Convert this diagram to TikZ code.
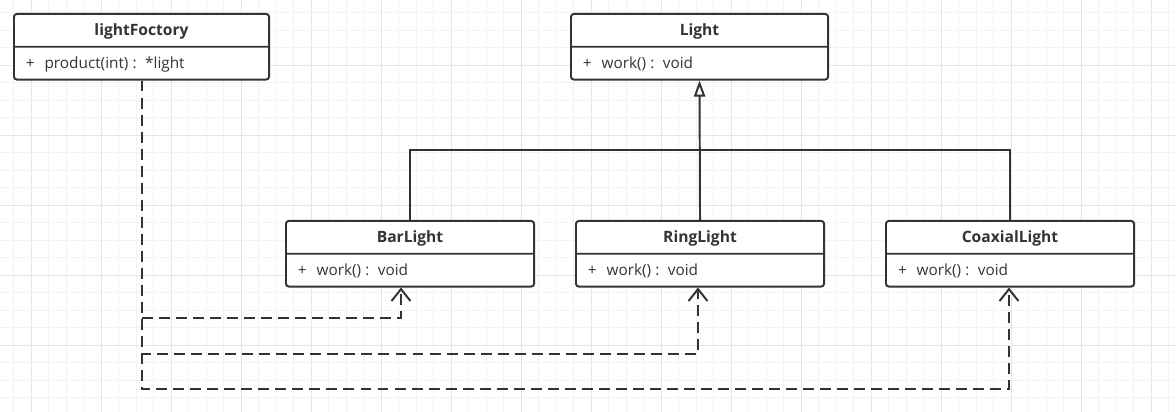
\documentclass[tikz,border=0pt]{standalone}
\usepackage{fontspec}
\setmainfont{Open Sans}
\definecolor{LineColor}{RGB}{51,51,51}
\definecolor{GridMinor}{RGB}{243,243,243}
\definecolor{GridMajor}{RGB}{229,229,229}
\usetikzlibrary{shapes.multipart, arrows.meta, positioning}
\newcommand{\umlstrut}{\rule[-0.255cm]{0pt}{0.77cm}}
\newcommand{\umltitle}[1]{\makebox[\hsize]{\fontsize{11.1}{13}\selectfont\textbf{#1}}\umlstrut}
\tikzstyle{umlclass} = [rectangle split, rectangle split parts=2, draw=LineColor, line width=1.4pt, rounded corners=2pt, fill=white, text=LineColor, anchor=north west, inner xsep=0.3cm, inner ysep=0pt, align=left, text width=#1, font=\fontsize{10.9}{13}\selectfont]
\tikzstyle{minorline} = [GridMinor, line width=0.7pt]
\tikzstyle{majorline} = [GridMajor, line width=0.7pt]
\tikzstyle{generalize} = [LineColor, line width=1.4pt]
\tikzstyle{inherit} = [LineColor, line width=1.4pt, -{Triangle[open, length=11.5pt, width=8pt, fill=white]}]
\tikzstyle{depend} = [LineColor, line width=1.4pt, dash pattern=on 7.8pt off 4.3pt, -{Straight Barb[length=8.5pt, width=13.5pt]}]
\begin{document}
\begin{tikzpicture}[x=0.025cm, y=-0.025cm]
    \useasboundingbox (0,0) rectangle (1176,412);
    % Grid
    \foreach \gx in {13.5,31,...,1176} \draw[minorline] (\gx,0) -- (\gx,412);
    \foreach \gy in {12.5,30,...,412} \draw[minorline] (0,\gy) -- (1176,\gy);
    \foreach \gx in {31,101,...,1176} \draw[majorline] (\gx,0) -- (\gx,412);
    \foreach \gy in {65,135,...,412} \draw[majorline] (0,\gy) -- (1176,\gy);

    % Classes
    \node[umlclass=5.775cm] (factory) at (13,13) {\umltitle{lightFoctory}\nodepart{second}+\hspace{7pt}product(int)\hspace{3pt}:\hspace{6pt}*light\umlstrut};
    \node[umlclass=5.825cm] (light) at (570,13) {\umltitle{Light}\nodepart{second}+\hspace{7pt}work()\hspace{3pt}:\hspace{6pt}void\umlstrut};
    \node[umlclass=5.6cm] (bar) at (285,220) {\umltitle{BarLight}\nodepart{second}+\hspace{7pt}work()\hspace{3pt}:\hspace{6pt}void\umlstrut};
    \node[umlclass=5.6cm] (ring) at (575,220) {\umltitle{RingLight}\nodepart{second}+\hspace{7pt}work()\hspace{3pt}:\hspace{6pt}void\umlstrut};
    \node[umlclass=5.6cm] (coax) at (885,220) {\umltitle{CoaxialLight}\nodepart{second}+\hspace{7pt}work()\hspace{3pt}:\hspace{6pt}void\umlstrut};

    % Inheritance
    \coordinate (bus) at (699,150);
    \draw[generalize] (bar.north) |- (bus) -| (coax.north);
    \draw[inherit] (ring.north) -- (light.south);

    % Dependencies
    \coordinate (tapBar) at (401,318);
    \coordinate (tapRing) at (698,354);
    \coordinate (tapCoax) at (1009,389);
    \draw[depend] (factory.south) |- (tapBar) -- (tapBar |- bar.south);
    \draw[depend] (factory.south) |- (tapRing) -- (tapRing |- ring.south);
    \draw[depend] (factory.south) |- (tapCoax) -- (tapCoax |- coax.south);
\end{tikzpicture}
\end{document}
